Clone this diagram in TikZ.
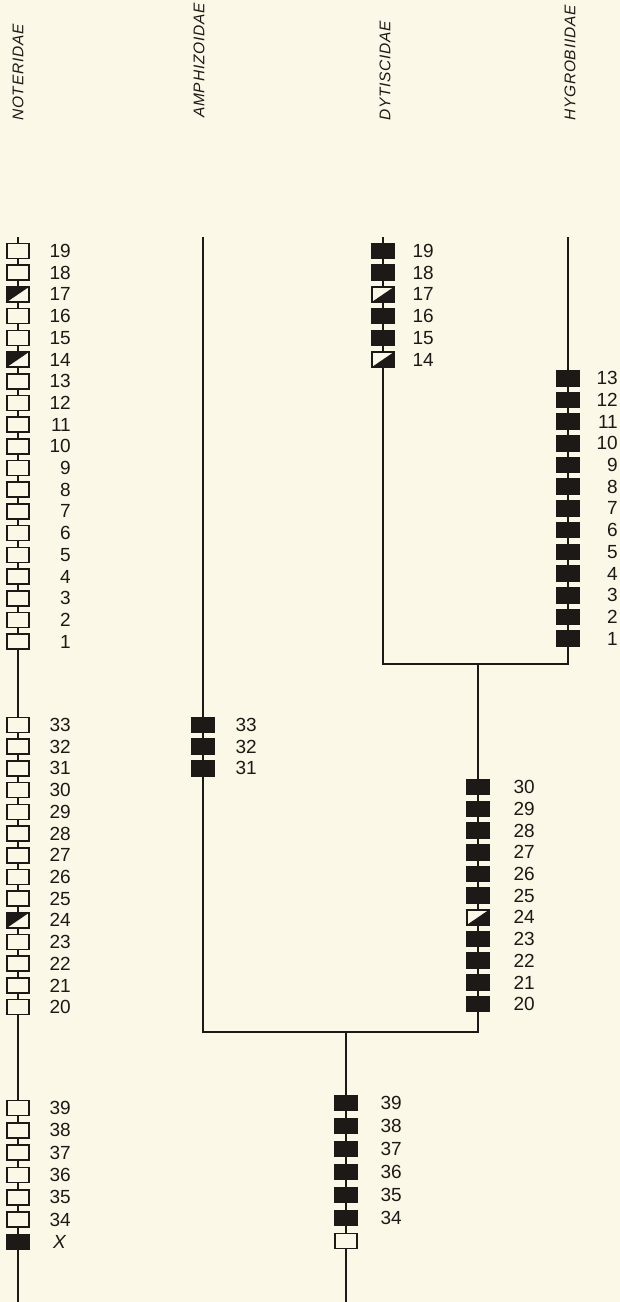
\documentclass[tikz,border=0pt]{standalone}
\usepackage{fontspec}
\setmainfont{Liberation Sans}
\newfontfamily\famfont[LetterSpace=5]{Liberation Sans}
\usetikzlibrary{positioning}
\definecolor{paper}{RGB}{252,248,231}
\definecolor{ink}{RGB}{28,25,22}
\tikzset{
  stemln/.style={line width=1.3pt, draw=ink},
  charbox/.style={draw=ink, line width=1.6pt, minimum width=22pt, minimum height=15pt, inner sep=0pt},
  openbox/.style={charbox, fill=paper},
  fullbox/.style={charbox, fill=ink},
  halfnw/.style={charbox, fill=paper, path picture={
    \fill[ink] (path picture bounding box.north west) -- (path picture bounding box.north east)
      -- (path picture bounding box.south west) -- cycle;}},
  halfse/.style={charbox, fill=paper, path picture={
    \fill[ink] (path picture bounding box.south west) -- (path picture bounding box.north east)
      -- (path picture bounding box.south east) -- cycle;}},
  numlbl/.style={anchor=east, inner sep=0pt, text=ink, font=\fontsize{19}{21}\selectfont},
  famlbl/.style={rotate=90, anchor=west, inner sep=0pt, text=ink, font=\famfont\itshape\fontsize{15.5}{18}\selectfont},
}

\begin{document}
\begin{tikzpicture}[x=1pt, y=-1pt]
    \fill[paper] (0,0) rectangle (620,1302);
    \useasboundingbox (0,0) rectangle (620,1302);
    % family names
    \node[famlbl] (notName) at (18,121) {NOTERIDAE};
    \node[famlbl] (ampName) at (199,118) {AMPHIZOIDAE};
    \node[famlbl] (dytName) at (385,121) {DYTISCIDAE};
    \node[famlbl] (hygName) at (570,121) {HYGROBIIDAE};
    % stems
    \coordinate (notTop) at (18,237);
    \coordinate (notBot) at (18,1302);
    \coordinate (ampTop) at (203,237);
    \coordinate (dytTop) at (383,237);
    \coordinate (hygTop) at (568,237);
    \coordinate (dhFork) at (478,664);
    \coordinate (rootFork) at (346,1032);
    \coordinate (rootBot) at (346,1302);
    \draw[stemln] (notTop) -- (notBot);
    \draw[stemln] (dytTop) |- (dhFork) -| (hygTop);
    \draw[stemln] (ampTop) |- (rootFork) -| (dhFork);
    \draw[stemln] (rootFork) -- (rootBot);
    % Noteridae: 19-1, 33-20, 39-34, X
    \foreach \c/\st in {19/openbox,18/openbox,17/halfnw,16/openbox,15/openbox,14/halfnw,
        13/openbox,12/openbox,11/openbox,10/openbox,9/openbox,8/openbox,7/openbox,
        6/openbox,5/openbox,4/openbox,3/openbox,2/openbox,1/openbox} {
      \pgfmathsetmacro\yy{251+(19-\c)*21.7}
      \node[\st] (not\c) at (18,\yy) {};
      \node[numlbl] (notn\c) at (71,\yy) {\c};
    }
    \foreach \c/\st in {33/openbox,32/openbox,31/openbox,30/openbox,29/openbox,28/openbox,
        27/openbox,26/openbox,25/openbox,24/halfnw,23/openbox,22/openbox,21/openbox,20/openbox} {
      \pgfmathsetmacro\yy{725+(33-\c)*21.7}
      \node[\st] (not\c) at (18,\yy) {};
      \node[numlbl] (notn\c) at (71,\yy) {\c};
    }
    \foreach \c in {39,...,34} {
      \pgfmathsetmacro\yy{1108+(39-\c)*22.3}
      \node[openbox] (not\c) at (18,\yy) {};
      \node[numlbl] (notn\c) at (71,\yy) {\c};
    }
    \node[fullbox] (notX) at (18,1242) {};
    \node[numlbl, anchor=west] (notnX) at (53,1242) {\itshape X};
    % Amphizoidae: 33-31
    \foreach \c in {33,32,31} {
      \pgfmathsetmacro\yy{725+(33-\c)*21.7}
      \node[fullbox] (amp\c) at (203,\yy) {};
      \node[numlbl] (ampn\c) at (257,\yy) {\c};
    }
    % Dytiscidae: 19-14
    \foreach \c/\st in {19/fullbox,18/fullbox,17/halfse,16/fullbox,15/fullbox,14/halfse} {
      \pgfmathsetmacro\yy{251+(19-\c)*21.7}
      \node[\st] (dyt\c) at (383,\yy) {};
      \node[numlbl] (dytn\c) at (434,\yy) {\c};
    }
    % Hygrobiidae: 13-1
    \foreach \c in {13,...,1} {
      \pgfmathsetmacro\yy{248+(19-\c)*21.7}
      \node[fullbox] (hyg\c) at (568,\yy) {};
      \node[numlbl] (hygn\c) at (618,\yy) {\c};
    }
    % Dytiscidae + Hygrobiidae: 30-20
    \foreach \c/\st in {30/fullbox,29/fullbox,28/fullbox,27/fullbox,26/fullbox,25/fullbox,
        24/halfse,23/fullbox,22/fullbox,21/fullbox,20/fullbox} {
      \pgfmathsetmacro\yy{722+(33-\c)*21.7}
      \node[\st] (dh\c) at (478,\yy) {};
      \node[numlbl] (dhn\c) at (535,\yy) {\c};
    }
    % root: 39-34, X
    \foreach \c in {39,...,34} {
      \pgfmathsetmacro\yy{1103+(39-\c)*23}
      \node[fullbox] (root\c) at (346,\yy) {};
      \node[numlbl] (rootn\c) at (402,\yy) {\c};
    }
    \node[openbox] (rootX) at (346,1241) {};
  \end{tikzpicture}
\end{document}
